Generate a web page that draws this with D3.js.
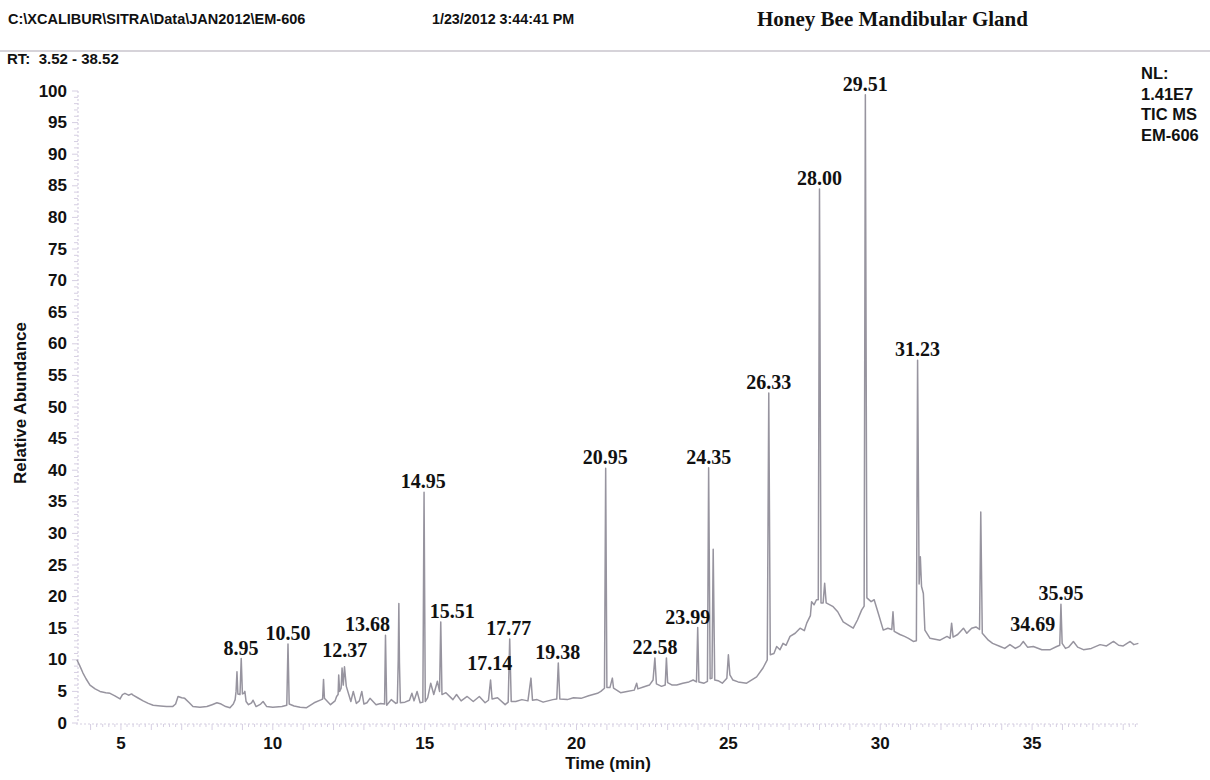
<!DOCTYPE html>
<html>
<head>
<meta charset="utf-8">
<script src="https://cdn.jsdelivr.net/npm/d3@7"></script>
<style>
  html, body { margin: 0; padding: 0; background: #fff; }
  svg { display: block; }
  .sans { font-family: "Liberation Sans", Arial, sans-serif; font-weight: bold; fill: #111; }
  .serif { font-family: "Liberation Serif", "Times New Roman", serif; font-weight: bold; fill: #111; }
</style>
</head>
<body>
<svg id="chart" width="1210" height="780"></svg>
<script>
// retention time window (min)
const rtRange = [3.52, 38.52];
const yTicks = [0, 5, 10, 15, 20, 25, 30, 35, 40, 45, 50, 55, 60, 65, 70, 75, 80, 85, 90, 95, 100];
const xTicks = [5, 10, 15, 20, 25, 30, 35];

// TIC trace: [time (min), relative abundance]
const trace = [
    [3.55, 10.0], [3.65, 9.0], [3.75, 7.9], [3.85, 7.0], [3.98, 6.0], [4.15, 5.4], [4.31, 5.0], [4.5, 4.8],
    [4.64, 4.7], [4.8, 4.3], [4.97, 3.8], [5.05, 4.5], [5.13, 4.7], [5.25, 4.4], [5.35, 4.6], [5.4, 4.4],
    [5.55, 4.0], [5.73, 3.5], [5.9, 3.1], [6.06, 2.8], [6.3, 2.7], [6.5, 2.6], [6.7, 2.6], [6.8, 3.0],
    [6.88, 4.2], [7.0, 4.0], [7.1, 3.9], [7.25, 3.2], [7.37, 2.6], [7.6, 2.5], [7.83, 2.6], [8.0, 2.9],
    [8.16, 3.2], [8.3, 3.0], [8.45, 2.6], [8.59, 2.4], [8.7, 3.0], [8.76, 3.7], [8.79, 5.0], [8.82, 8.1],
    [8.85, 4.6], [8.92, 4.5], [8.96, 10.2], [9.0, 4.6], [9.05, 4.7], [9.08, 5.0], [9.12, 3.4], [9.2, 2.9],
    [9.3, 3.2], [9.35, 3.6], [9.45, 2.6], [9.6, 3.0], [9.68, 3.4], [9.8, 2.6], [10.0, 2.5], [10.3, 2.6],
    [10.46, 2.8], [10.5, 12.5], [10.54, 3.0], [10.7, 2.7], [10.9, 2.5], [11.1, 2.4], [11.36, 3.2], [11.6, 3.7],
    [11.64, 3.8], [11.67, 6.9], [11.7, 3.9], [11.9, 2.9], [12.05, 3.5], [12.1, 4.2], [12.15, 4.5], [12.17, 7.6],
    [12.2, 5.0], [12.25, 5.5], [12.28, 8.7], [12.32, 6.0], [12.36, 8.9], [12.42, 5.8], [12.57, 3.4], [12.65, 5.0],
    [12.75, 3.1], [12.85, 3.5], [12.93, 5.0], [13.0, 3.0], [13.1, 3.2], [13.2, 3.9], [13.4, 2.9], [13.55, 3.1],
    [13.68, 3.0], [13.71, 13.9], [13.75, 2.8], [13.9, 3.7], [14.05, 3.1], [14.1, 3.2], [14.13, 10.0], [14.15, 18.9],
    [14.17, 9.5], [14.2, 3.2], [14.35, 3.3], [14.5, 3.6], [14.58, 4.7], [14.65, 3.5], [14.75, 5.0], [14.85, 3.2],
    [14.94, 3.3], [14.98, 36.5], [15.02, 3.4], [15.1, 4.0], [15.2, 6.3], [15.3, 4.5], [15.42, 6.6], [15.49, 5.0],
    [15.53, 16.0], [15.57, 4.5], [15.7, 4.8], [15.93, 3.7], [16.05, 4.5], [16.2, 3.5], [16.4, 4.2], [16.6, 3.4],
    [16.8, 4.2], [16.99, 3.2], [17.1, 3.6], [17.17, 6.8], [17.22, 3.8], [17.4, 4.0], [17.65, 2.9], [17.75, 3.3],
    [17.8, 13.3], [17.85, 3.4], [18.0, 3.4], [18.2, 3.7], [18.4, 3.5], [18.5, 7.1], [18.55, 3.6], [18.7, 3.7],
    [18.9, 3.3], [19.22, 3.7], [19.35, 3.8], [19.4, 9.5], [19.45, 3.8], [19.7, 3.7], [19.9, 4.0], [20.15, 3.9],
    [20.4, 4.3], [20.69, 4.7], [20.8, 5.0], [20.92, 5.5], [20.96, 40.3], [21.0, 5.6], [21.1, 5.6], [21.18, 7.1],
    [21.22, 5.5], [21.45, 4.8], [21.66, 5.0], [21.9, 5.2], [21.98, 6.3], [22.02, 5.4], [22.2, 5.7], [22.4, 6.0],
    [22.52, 6.8], [22.58, 10.3], [22.63, 6.2], [22.8, 5.8], [22.92, 6.0], [22.96, 10.3], [23.0, 6.4], [23.15, 6.0],
    [23.3, 6.0], [23.5, 6.3], [23.7, 6.5], [23.84, 6.8], [23.95, 6.5], [23.99, 15.1], [24.03, 6.5], [24.2, 6.3],
    [24.31, 6.6], [24.35, 40.4], [24.4, 7.0], [24.46, 7.1], [24.5, 27.5], [24.55, 6.8], [24.66, 6.7], [24.8, 6.3],
    [24.95, 7.1], [25.0, 10.8], [25.05, 7.6], [25.15, 6.8], [25.32, 6.5], [25.6, 6.3], [25.93, 7.3], [26.14, 8.7],
    [26.28, 10.0], [26.33, 52.2], [26.38, 10.8], [26.5, 11.0], [26.59, 12.1], [26.7, 11.6], [26.8, 12.6], [26.9, 12.3],
    [27.03, 13.7], [27.2, 14.2], [27.36, 15.0], [27.5, 14.6], [27.58, 15.8], [27.7, 17.0], [27.74, 19.2], [27.82, 18.7],
    [27.9, 19.5], [27.96, 19.5], [28.0, 84.5], [28.05, 19.0], [28.12, 19.0], [28.17, 22.1], [28.22, 19.0], [28.45, 18.4],
    [28.6, 17.6], [28.78, 16.0], [28.95, 15.5], [29.11, 15.0], [29.25, 16.3], [29.39, 17.9], [29.47, 18.5], [29.51, 99.4],
    [29.56, 19.8], [29.7, 19.2], [29.8, 19.5], [29.94, 17.3], [30.1, 14.7], [30.25, 15.0], [30.38, 14.8], [30.42, 17.6],
    [30.46, 14.5], [30.65, 14.0], [30.8, 13.7], [30.93, 13.4], [31.09, 12.9], [31.19, 13.0], [31.23, 57.4], [31.28, 22.0],
    [31.32, 26.3], [31.36, 21.6], [31.42, 20.5], [31.47, 14.7], [31.64, 13.4], [31.97, 13.1], [32.2, 13.7], [32.3, 13.4],
    [32.35, 15.8], [32.4, 13.6], [32.55, 14.0], [32.74, 15.0], [32.85, 14.2], [33.01, 15.0], [33.15, 15.2], [33.27, 14.8],
    [33.31, 33.4], [33.36, 14.2], [33.56, 13.1], [33.7, 12.6], [33.95, 12.1], [34.1, 11.8], [34.27, 12.4], [34.45, 11.8],
    [34.6, 12.2], [34.71, 12.9], [34.85, 12.0], [35.04, 12.1], [35.32, 11.6], [35.6, 11.6], [35.81, 12.1], [35.91, 12.3],
    [35.95, 18.8], [35.99, 12.6], [36.1, 11.8], [36.2, 12.0], [36.36, 12.9], [36.5, 12.0], [36.69, 11.6], [36.95, 11.8],
    [37.24, 12.4], [37.45, 12.2], [37.68, 12.9], [37.85, 12.3], [38.0, 12.2], [38.23, 12.9], [38.35, 12.4], [38.5, 12.6]
];

// labelled peaks (retention time)
const peakLabels = ["8.95", "10.50", "12.37", "13.68", "14.95", "15.51", "17.14", "17.77", "19.38", "20.95",
    "22.58", "23.99", "24.35", "26.33", "28.00", "29.51", "31.23", "34.69", "35.95"];

const headerPath = "C:\\XCALIBUR\\SITRA\\Data\\JAN2012\\EM-606";
const headerDate = "1/23/2012 3:44:41 PM";
const headerTitle = "Honey Bee Mandibular Gland";
const rtText = "RT:  3.52 - 38.52";
const nlLines = ["NL:", "1.41E7", "TIC MS", "EM-606"];

// init d3
{
    const svg = d3.select('#chart');
    const x = d3.scaleLinear().domain(rtRange).range([76, 1139]);
    const y = d3.scaleLinear().domain([0, 100]).range([723, 91]);
    const axisColor = "#d6cfe2";
    const traceColor = "#97949f";

    // header
    svg.append("text").attr("class", "sans").attr("x", 8).attr("y", 24).style("font-size", "14.5px").text(headerPath);
    svg.append("text").attr("class", "sans").attr("x", 432).attr("y", 24).style("font-size", "14.3px").text(headerDate);
    svg.append("text").attr("class", "serif").attr("x", 757).attr("y", 26).style("font-size", "21px").text(headerTitle);
    svg.append("line")
        .attr("x1", 0).attr("x2", 1210).attr("y1", 51).attr("y2", 51)
        .attr("stroke", "#c9c5cd").attr("stroke-width", 1.6);
    svg.append("text").attr("class", "sans").attr("x", 7).attr("y", 64).style("font-size", "15px")
        .attr("xml:space", "preserve").text(rtText);

    // NL block
    svg.append("g").selectAll("text").data(nlLines).join("text")
        .attr("class", "sans").style("font-size", "16.5px")
        .attr("x", 1141).attr("y", (d, i) => 79 + i * 20.5)
        .text(d => d);

    // y axis: dotted line + minor ticks
    const yAxis = svg.append("g");
    yAxis.append("line")
        .attr("x1", 78).attr("x2", 78).attr("y1", y(100)).attr("y2", y(0))
        .attr("stroke", axisColor).attr("stroke-width", 1.2).attr("stroke-dasharray", "2,2");
    yAxis.selectAll(".minor").data(d3.range(0, 101, 1)).join("line")
        .attr("x1", d => d % 5 === 0 ? 72 : 74).attr("x2", 78)
        .attr("y1", d => y(d)).attr("y2", d => y(d))
        .attr("stroke", axisColor).attr("stroke-width", 1);
    yAxis.selectAll("text").data(yTicks).join("text")
        .attr("class", "sans").style("font-size", "17px")
        .attr("text-anchor", "end").attr("dominant-baseline", "central")
        .attr("x", 67).attr("y", d => y(d)).text(d => d);

    // x axis: dotted line + minor ticks
    const xAxis = svg.append("g");
    xAxis.append("line")
        .attr("x1", x(rtRange[0])).attr("x2", x(rtRange[1])).attr("y1", 724).attr("y2", 724)
        .attr("stroke", axisColor).attr("stroke-width", 1.2).attr("stroke-dasharray", "2,2");
    xAxis.selectAll(".minor").data(d3.range(4, 38.6, 0.2)).join("line")
        .attr("x1", d => x(d)).attr("x2", d => x(d))
        .attr("y1", 724).attr("y2", d => Math.abs(d - Math.round(d)) < 0.01 ? 730 : 727)
        .attr("stroke", axisColor).attr("stroke-width", 1);
    xAxis.selectAll("text").data(xTicks).join("text")
        .attr("class", "sans").style("font-size", "17px")
        .attr("text-anchor", "middle").attr("dominant-baseline", "central")
        .attr("x", d => x(d)).attr("y", 743).text(d => d);

    // axis titles
    svg.append("text").attr("class", "sans").style("font-size", "17px")
        .attr("text-anchor", "middle").attr("x", 608).attr("y", 769).text("Time (min)");
    svg.append("text").attr("class", "sans").style("font-size", "17px")
        .attr("text-anchor", "middle")
        .attr("transform", "translate(26,403) rotate(-90)").text("Relative Abundance");

    // trace
    const line = d3.line().x(d => x(d[0])).y(d => y(d[1]));
    svg.append("path").datum(trace)
        .attr("d", line)
        .attr("fill", "none").attr("stroke", traceColor)
        .attr("stroke-width", 1.5).attr("stroke-linejoin", "round");

    // peak labels sit just above the local apex of the trace
    const nudge = {
        "12.37": {dx: 0, dy: -6}, "13.68": {dx: -17, dy: 0}, "15.51": {dx: 12, dy: 0},
        "17.14": {dx: 0, dy: -6}, "23.99": {dx: -10, dy: 0}, "34.69": {dx: 10, dy: -6}
    };
    const apex = t => d3.max(trace.filter(p => Math.abs(p[0] - t) <= 0.06), p => p[1]);
    svg.append("g").selectAll("text").data(peakLabels).join("text")
        .attr("class", "serif").style("font-size", "20px")
        .attr("text-anchor", "middle")
        .attr("x", d => x(+d) + (nudge[d] ? nudge[d].dx : 0))
        .attr("y", d => y(apex(+d)) - 4 + (nudge[d] ? nudge[d].dy : 0))
        .text(d => d);
}
</script>
</body>
</html>
